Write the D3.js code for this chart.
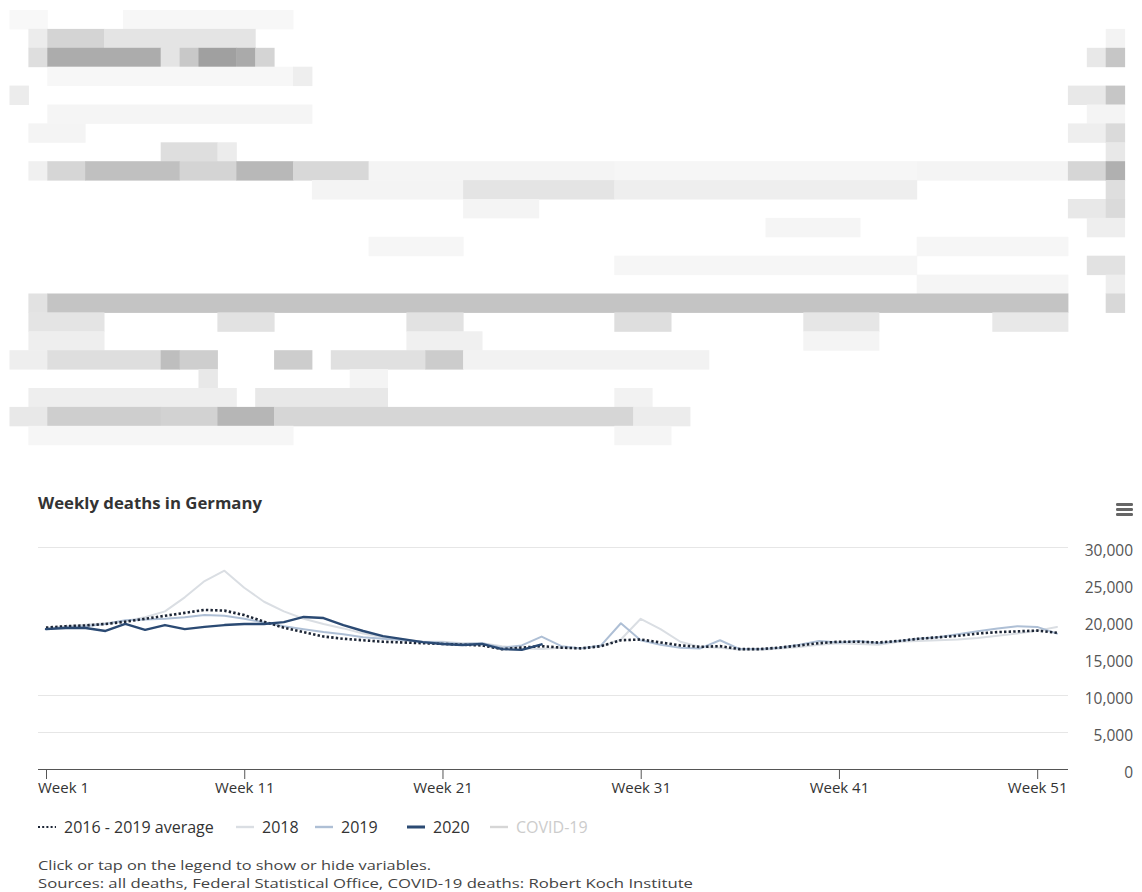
<!DOCTYPE html>
<html>
<head>
<meta charset="utf-8">
<script src="https://cdn.jsdelivr.net/npm/d3@7"></script>
<style>
  html, body { margin: 0; padding: 0; background: #ffffff; }
  svg { display: block; }
  text { font-family: "Open Sans", "Noto Sans", sans-serif; }
</style>
</head>
<body>
<svg id="page" width="1142" height="892"></svg>
<script>
// ---- data -------------------------------------------------------------
const weeks = d3.range(1, 53);

const tickWeeks = [1, 11, 21, 31, 41, 51];
const tickLabels = ["Week 1", "Week 11", "Week 21", "Week 31", "Week 41", "Week 51"];
const yTicks = [0, 5000, 10000, 15000, 20000, 25000, 30000];
const gridValues = [5000, 10000, 30000];

const avg2016to2019 = [
  19100, 19300, 19400, 19600, 19900, 20300, 20700, 21100, 21500, 21400,
  20800, 19900, 19100, 18500, 17900, 17600, 17400, 17200, 17100, 17000,
  16900, 16800, 16700, 16200, 16400, 16600, 16400, 16300, 16600, 17400,
  17500, 17100, 16700, 16500, 16600, 16200, 16200, 16400, 16700, 17000,
  17200, 17200, 17100, 17300, 17600, 17800, 18000, 18300, 18500, 18600,
  18700, 18400
];
const deaths2018 = [
  19000, 19300, 19500, 19700, 20000, 20500, 21300, 23200, 25400, 26800,
  24500, 22600, 21300, 20300, 19600, 19000, 18300, 17800, 17500, 17200,
  17200, 17000, 17000, 16600, 16300, 16200, 16400, 16300, 16600, 17500,
  20300, 18900, 17200, 16500, 16400, 16100, 16100, 16300, 16500, 16800,
  17000, 16900, 16800, 17200, 17300, 17400, 17500, 17700, 18000, 18300,
  18700, 19200
];
const deaths2019 = [
  18900, 19200, 19300, 19600, 20100, 20200, 20300, 20500, 20800, 20700,
  20300, 19800, 19300, 18900, 18500, 18200, 17800, 17600, 17400, 17200,
  17100, 16900, 17000, 16400, 16700, 17900, 16600, 16300, 16700, 19700,
  17400, 16800, 16400, 16300, 17400, 16200, 16200, 16400, 16800, 17300,
  17100, 17300, 17000, 17300, 17600, 17800, 18200, 18600, 19000, 19300,
  19200, 18300
];
const deaths2020 = [
  18900, 19050, 19050, 18650, 19600, 18800, 19450, 18900, 19200, 19450,
  19600, 19600, 19850, 20550, 20400, 19450, 18650, 17950, 17550, 17150,
  16900, 16750, 16900, 16200, 16100, 16850
];

const legendItems = [
  { key: "avg",   label: "2016 - 2019 average" },
  { key: "y2018", label: "2018" },
  { key: "y2019", label: "2019" },
  { key: "y2020", label: "2020" },
  { key: "covid", label: "COVID-19" }
];

// ---- styles -----------------------------------------------------------
const seriesStyle = {
  avg:   { color: "#1c2535", width: 2.6, dash: "2.4,2.2" },
  y2018: { color: "#dadee3", width: 2, dash: null },
  y2019: { color: "#aebfd5", width: 2, dash: null },
  y2020: { color: "#2b4a73", width: 2.4, dash: null },
  covid: { color: "#d6d6d6", width: 2, dash: null, hidden: true }
};

const svg = d3.select("#page");

// ---- pixelated teaser text block above the chart ----------------------
// each run: [row, first column, last column, grey level]
const mosaicRuns = [
  [0, 0, 1, 248], [0, 6, 14, 247],
  [1, 1, 1, 236], [1, 2, 4, 212], [1, 5, 12, 228], [1, 58, 58, 243],
  [2, 1, 1, 222], [2, 2, 7, 172], [2, 8, 8, 228], [2, 9, 9, 200], [2, 10, 11, 160], [2, 12, 12, 170], [2, 13, 13, 212], [2, 57, 57, 232], [2, 58, 58, 198],
  [3, 2, 14, 247], [3, 15, 15, 238],
  [4, 0, 0, 236], [4, 56, 57, 232], [4, 58, 58, 198],
  [5, 2, 15, 245], [5, 57, 58, 244],
  [6, 1, 3, 244], [6, 56, 57, 238], [6, 58, 58, 218],
  [7, 8, 10, 222], [7, 11, 11, 236], [7, 58, 58, 232],
  [8, 1, 1, 240], [8, 2, 3, 214], [8, 4, 8, 192], [8, 9, 11, 212], [8, 12, 14, 184], [8, 15, 18, 216], [8, 19, 31, 244], [8, 32, 47, 246], [8, 48, 55, 244], [8, 56, 57, 214], [8, 58, 58, 176],
  [9, 16, 23, 244], [9, 24, 31, 228], [9, 32, 47, 238], [9, 58, 58, 222],
  [10, 24, 27, 244], [10, 56, 57, 232], [10, 58, 58, 218],
  [11, 40, 44, 245], [11, 57, 58, 238],
  [12, 19, 23, 246], [12, 48, 55, 246],
  [13, 32, 47, 246], [13, 57, 58, 226],
  [14, 48, 55, 245], [14, 58, 58, 238],
  [15, 1, 1, 226], [15, 2, 55, 196], [15, 58, 58, 216],
  [16, 1, 4, 228], [16, 11, 13, 226], [16, 21, 23, 226], [16, 32, 34, 222], [16, 42, 45, 230], [16, 52, 55, 232],
  [17, 1, 4, 238], [17, 21, 24, 240], [17, 42, 45, 244],
  [18, 0, 1, 238], [18, 2, 7, 222], [18, 8, 8, 190], [18, 9, 10, 206], [18, 14, 15, 205], [18, 17, 21, 224], [18, 22, 23, 204], [18, 24, 36, 242],
  [19, 10, 10, 232], [19, 18, 19, 244],
  [20, 1, 11, 238], [20, 13, 19, 232], [20, 32, 33, 242],
  [21, 0, 1, 232], [21, 2, 7, 206], [21, 8, 10, 210], [21, 11, 13, 182], [21, 14, 32, 214], [21, 33, 35, 236],
  [22, 1, 14, 246], [22, 32, 34, 245]
];
const cell = 18.9, mosaicX = 9.5, mosaicY = 10;
svg.append("g").attr("class", "teaser")
  .selectAll("rect")
  .data(mosaicRuns)
  .join("rect")
  .attr("x", d => mosaicX + d[1] * cell)
  .attr("y", d => mosaicY + d[0] * cell)
  .attr("width", d => (d[2] - d[1] + 1) * cell + 0.5)
  .attr("height", cell + 0.5)
  .attr("fill", d => d3.rgb(d[3], d[3], d[3]));

// ---- chart ------------------------------------------------------------
const plot = { left: 38, right: 1068, top: 547, bottom: 769 };

const x = d3.scaleLinear().domain([1, 52]).range([46, 1057]);
const y = d3.scaleLinear().domain([0, 30000]).range([plot.bottom, plot.top]);

// title
svg.append("text")
  .attr("x", 38).attr("y", 509)
  .attr("font-size", 16.5).attr("font-weight", 700)
  .attr("fill", "#333333")
  .attr("textLength", 224).attr("lengthAdjust", "spacingAndGlyphs")
  .text("Weekly deaths in Germany");

// menu icon
const menu = svg.append("g").attr("transform", "translate(1116,503)");
[0, 5, 10].forEach(o => menu.append("rect")
  .attr("x", 0).attr("y", o).attr("width", 17).attr("height", 3)
  .attr("rx", 1.2).attr("fill", "#666666"));

// grid lines
svg.append("g").selectAll("line")
  .data(gridValues)
  .join("line")
  .attr("x1", plot.left).attr("x2", plot.right)
  .attr("y1", d => Math.round(y(d)) + 0.5).attr("y2", d => Math.round(y(d)) + 0.5)
  .attr("stroke", "#e6e6e6").attr("stroke-width", 1);

// y axis labels on the right
const yAxis = d3.axisRight(y).tickValues(yTicks).tickSize(0).tickPadding(0)
  .tickFormat(d3.format(","));
svg.append("g")
  .attr("transform", "translate(1133,3)")
  .call(yAxis)
  .call(g => g.select(".domain").remove())
  .call(g => g.selectAll("text")
    .attr("text-anchor", "end")
    .attr("dy", "0.35em")
    .attr("font-family", "\"Open Sans\", sans-serif")
    .attr("font-size", 15.5).attr("fill", "#555555"));

// lines
const line = d3.line()
  .x((d, i) => x(weeks[i]))
  .y(d => y(d));

const seriesData = [
  { key: "y2018", values: deaths2018 },
  { key: "y2019", values: deaths2019 },
  { key: "avg",   values: avg2016to2019 },
  { key: "y2020", values: deaths2020 }
];

svg.append("g").attr("class", "series")
  .selectAll("path")
  .data(seriesData)
  .join("path")
  .attr("d", d => line(d.values))
  .attr("fill", "none")
  .attr("stroke", d => seriesStyle[d.key].color)
  .attr("stroke-width", d => seriesStyle[d.key].width)
  .attr("stroke-dasharray", d => seriesStyle[d.key].dash)
  .attr("stroke-linejoin", "round")
  .attr("stroke-linecap", d => seriesStyle[d.key].dash ? "butt" : "round");

// x axis
const xAxis = d3.axisBottom(x).tickValues(tickWeeks).tickSize(10).tickPadding(3)
  .tickFormat((d, i) => tickLabels[i]);
const xg = svg.append("g")
  .attr("transform", `translate(0,${plot.bottom})`)
  .call(xAxis);
xg.select(".domain")
  .attr("d", `M${plot.left},0.5H${plot.right}`)
  .attr("stroke", "#555555");
xg.selectAll(".tick line").attr("stroke", "#555555");
xg.selectAll(".tick text")
  .attr("font-family", "\"Open Sans\", sans-serif")
  .attr("font-size", 15).attr("fill", "#333333");
// keep the first label inside the plot edge
xg.selectAll(".tick text").each(function () {
  const node = this;
  const tx = d3.select(node.parentNode).attr("transform");
  const px = +/translate\(([-\d.]+)/.exec(tx)[1];
  const w = node.getComputedTextLength();
  if (px - w / 2 < plot.left) {
    d3.select(node).attr("text-anchor", "start").attr("x", plot.left - px);
  }
});

// legend
const legendX = [38, 236, 315, 407, 490];
const legend = svg.append("g").attr("transform", "translate(0,827)");
legendItems.forEach((item, i) => {
  const s = seriesStyle[item.key];
  const gx = legendX[i];
  const g = legend.append("g").attr("transform", `translate(${gx},0)`);
  g.append("line")
    .attr("x1", 0).attr("x2", 18).attr("y1", 0).attr("y2", 0)
    .attr("stroke", s.hidden ? "#d6d6d6" : s.color)
    .attr("stroke-width", item.key === "avg" ? 2.2 : (item.key === "y2020" ? 3 : 2.4))
    .attr("stroke-dasharray", item.key === "avg" ? "2,2.2" : null);
  g.append("text")
    .attr("x", 26).attr("y", 0).attr("dy", "0.35em")
    .attr("font-size", 16)
    .attr("fill", s.hidden ? "#cccccc" : "#333333")
    .text(item.label);
});

// notes
svg.append("text")
  .attr("x", 38).attr("y", 870)
  .attr("font-size", 13).attr("fill", "#444444")
  .attr("textLength", 393).attr("lengthAdjust", "spacingAndGlyphs")
  .text("Click or tap on the legend to show or hide variables.");
svg.append("text")
  .attr("x", 38).attr("y", 888)
  .attr("font-size", 13).attr("fill", "#444444")
  .attr("textLength", 655).attr("lengthAdjust", "spacingAndGlyphs")
  .text("Sources: all deaths, Federal Statistical Office, COVID-19 deaths: Robert Koch Institute");
</script>
</body>
</html>
